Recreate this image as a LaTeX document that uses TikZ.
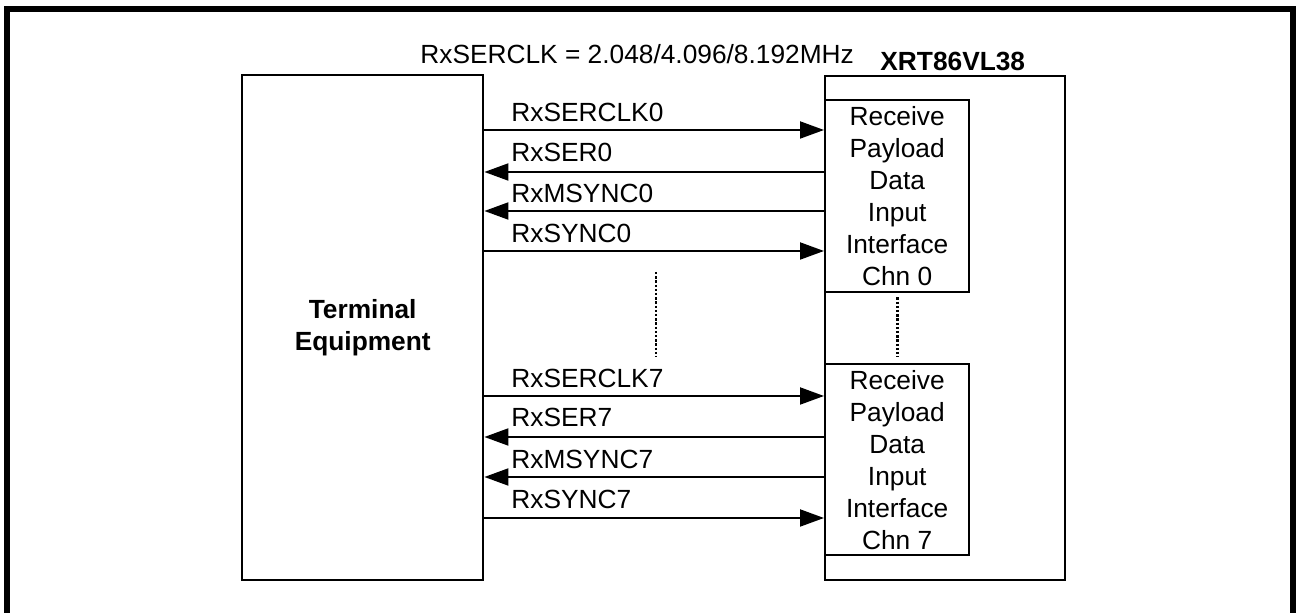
\documentclass[tikz,border=0pt]{standalone}
\usepackage{fontspec}
\setmainfont{Liberation Sans}
\usetikzlibrary{arrows.meta}
\newcommand{\sigfont}{\fontsize{13.15pt}{16pt}\selectfont}
\tikzset{
  box/.style={draw, line width=1.2pt, inner sep=0pt},
  sig/.style={line width=1pt, -{Triangle[length=12pt,width=8.5pt]}},
  lbl/.style={anchor=base west, inner sep=0pt, font=\sigfont},
  dots/.style={line width=1.4pt, dash pattern=on 1.2pt off 0.9pt},
}
\begin{document}
\begin{tikzpicture}[x=0.5pt, y=-0.5pt]
\useasboundingbox (0,0) rectangle (1298,613);
% outer frame
\draw[line width=3pt] (7,613) -- (7,9) -- (1293,9) -- (1293,613);
% header texts
\node[lbl] (hdr) at (420,64) {RxSERCLK = 2.048/4.096/8.192MHz};
\node[lbl, font=\sigfont\bfseries] (chip) at (880,71) {XRT86VL38};
% boxes
\node[box, anchor=north west, minimum width=120.5pt, minimum height=252.5pt,
      align=center, font=\sigfont\bfseries] (term) at (241,74) {Terminal\\Equipment};
\node[box, anchor=north west, minimum width=120pt, minimum height=252pt] (xrt) at (824,75) {};
\node[box, anchor=north west, minimum width=72pt, minimum height=96pt,
      align=center, font=\sigfont] (in0) at (824,99) {Receive\\Payload\\Data\\Input\\Interface\\Chn 0};
\node[box, anchor=north west, minimum width=72pt, minimum height=95.5pt,
      align=center, font=\sigfont] (in7) at (824,363) {Receive\\Payload\\Data\\Input\\Interface\\Chn 7};
% signal levels
\coordinate (a1) at (0,130); \coordinate (a2) at (0,172);
\coordinate (a3) at (0,211); \coordinate (a4) at (0,251);
\coordinate (b1) at (0,396); \coordinate (b2) at (0,437);
\coordinate (b3) at (0,477); \coordinate (b4) at (0,518);
% channel 0
\draw[sig] (term.east |- a1) -- (in0.west |- a1);
\draw[sig] (in0.west |- a2) -- (term.east |- a2);
\draw[sig] (in0.west |- a3) -- (term.east |- a3);
\draw[sig] (term.east |- a4) -- (in0.west |- a4);
\node[lbl] (l01) at (511,121.5) {RxSERCLK0};
\node[lbl] (l02) at (511,162) {RxSER0};
\node[lbl] (l03) at (511,202.5) {RxMSYNC0};
\node[lbl] (l04) at (511,242.5) {RxSYNC0};
% channel 7
\draw[sig] (term.east |- b1) -- (in7.west |- b1);
\draw[sig] (in7.west |- b2) -- (term.east |- b2);
\draw[sig] (in7.west |- b3) -- (term.east |- b3);
\draw[sig] (term.east |- b4) -- (in7.west |- b4);
\node[lbl] (l71) at (511,387.5) {RxSERCLK7};
\node[lbl] (l72) at (511,427) {RxSER7};
\node[lbl] (l73) at (511,468.5) {RxMSYNC7};
\node[lbl] (l74) at (511,509) {RxSYNC7};
% dotted continuation marks
\coordinate (d1) at (656,272); \coordinate (d2) at (656,357);
\draw[dots] (d1) -- (d2);
\draw[dots] ([yshift=-2pt]in0.south) -- ([yshift=3pt]in7.north);
\end{tikzpicture}
\end{document}
